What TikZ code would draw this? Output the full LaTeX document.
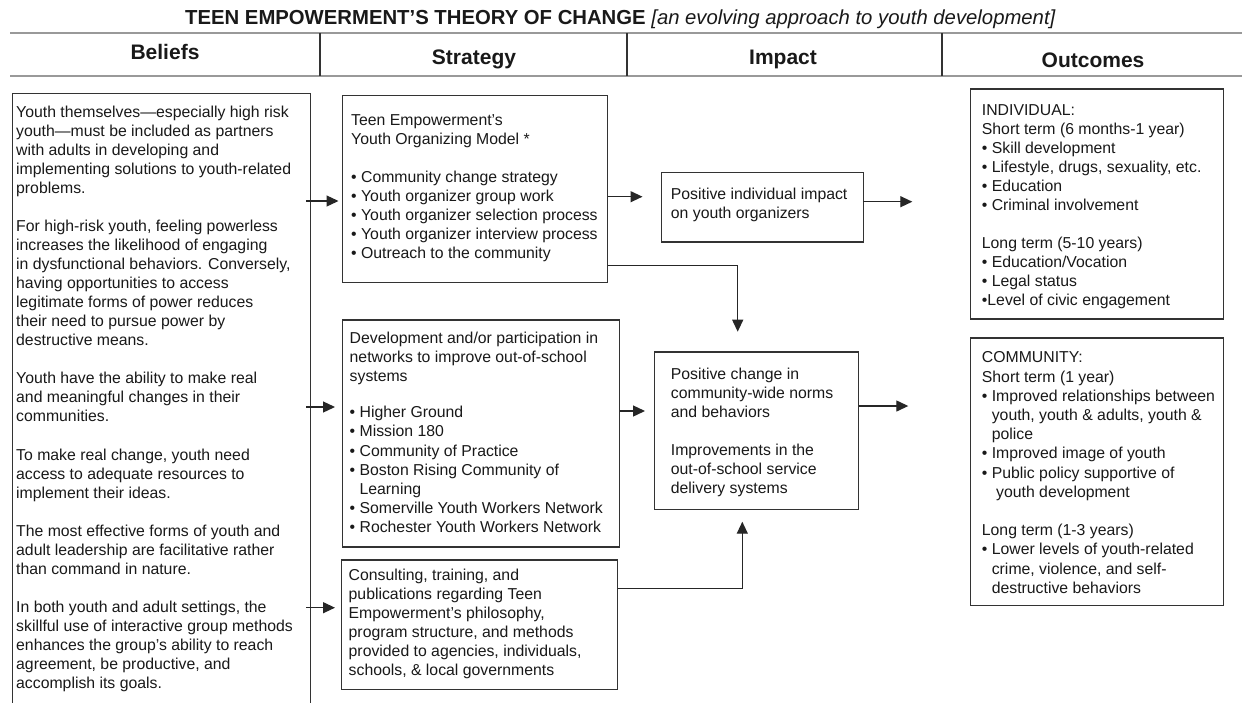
\documentclass[tikz,border=0pt]{standalone}
\usepackage{fontspec}
\setmainfont{Liberation Sans}
\usetikzlibrary{arrows.meta}
\newcommand\hng{\hphantom{•\ }}
\begin{document}
\begin{tikzpicture}[x=1pt,y=-1pt,
  box/.style={draw=black!80, line width=1.3pt, inner sep=0pt, anchor=north west},
  txt/.style={anchor=north west, inner sep=0pt, align=left, text=black!90, font=\fontsize{15.8}{19.05}\selectfont},
  txtw/.style={anchor=north west, inner sep=0pt, align=left, text=black!90, font=\fontsize{15.8}{19.2}\selectfont},
  arr/.style={draw=black!85, line width=1.3pt, -{Triangle[length=12pt,width=11pt]}},
  hdr/.style={anchor=base, inner sep=0pt, font=\fontsize{21}{25}\selectfont\bfseries, text=black!90},
  rule/.style={draw=gray!80, line width=2pt},
  sep/.style={draw=black!80, line width=1.2pt}]
\fill[white] (0,0) rectangle (1242,702);
\useasboundingbox (0,0) rectangle (1242,702);

% title
\node[anchor=base west, inner sep=0pt, text=black!90, font=\fontsize{20.3}{24}\selectfont] (title) at (185,24)
  {\bfseries TEEN EMPOWERMENT’S THEORY OF CHANGE \mdseries\itshape [an evolving approach to youth development]};

% header band
\draw[rule] (10,33.3) -- (1242,33.3);
\draw[rule] (10,75.5) -- (1242,75.5);
\draw[sep] (320,33.3) -- (320,75.5);
\draw[sep] (627,33.3) -- (627,75.5);
\draw[sep] (942,33.3) -- (942,75.5);
\node[hdr] (hbel) at (165,59.5) {Beliefs};
\node[hdr] (hstr) at (474,64) {Strategy};
\node[hdr] (himp) at (783,64) {Impact};
\node[hdr] (hout) at (1093,67) {Outcomes};

% boxes
\node[box, minimum width=298pt, minimum height=660pt] (bel) at (12,92.5) {};
\node[box, minimum width=265pt, minimum height=186.7pt] (s1) at (342,95) {};
\node[box, minimum width=277pt, minimum height=227pt] (s2) at (342,319.3) {};
\node[box, minimum width=275.5pt, minimum height=129.7pt] (s3) at (341,559.3) {};
\node[box, minimum width=202pt, minimum height=69.5pt] (i1) at (661,171.7) {};
\node[box, minimum width=203.7pt, minimum height=157.7pt] (i2) at (654,351.3) {};
\node[box, minimum width=253pt, minimum height=230pt] (o1) at (970,88.3) {};
\node[box, minimum width=253pt, minimum height=267.7pt] (o2) at (970,337.3) {};

% texts
\node[txt] (tbel) at (16,105.5) {Youth themselves—especially high risk\\
youth—must be included as partners\\
with adults in developing and\\
implementing solutions to youth-related\\
problems.\\[19.05pt]
For high-risk youth, feeling powerless\\
increases the likelihood of engaging\\
in dysfunctional behaviors. Conversely,\\
having opportunities to access\\
legitimate forms of power reduces\\
their need to pursue power by\\
destructive means.\\[19.05pt]
Youth have the ability to make real\\
and meaningful changes in their\\
communities.\\[19.05pt]
To make real change, youth need\\
access to adequate resources to\\
implement their ideas.\\[19.05pt]
The most effective forms of youth and\\
adult leadership are facilitative rather\\
than command in nature.\\[19.05pt]
In both youth and adult settings, the\\
skillful use of interactive group methods\\
enhances the group’s ability to reach\\
agreement, be productive, and\\
accomplish its goals.};

\node[txt] (ts1) at (351,114) {Teen Empowerment's\\
Youth Organizing Model *\\[19.05pt]
• Community change strategy\\
• Youth organizer group work\\
• Youth organizer selection process\\
• Youth organizer interview process\\
• Outreach to the community};

\node[txtw] (ts2) at (349.5,331.5) {Development and/or participation in\\
networks to improve out-of-school\\
systems\\[16.9pt]
• Higher Ground\\
• Mission 180\\
• Community of Practice\\
• Boston Rising Community of\\
\hng Learning\\
• Somerville Youth Workers Network\\
• Rochester Youth Workers Network};

\node[txt] (ts3) at (348.5,569) {Consulting, training, and\\
publications regarding Teen\\
Empowerment’s philosophy,\\
program structure, and methods\\
provided to agencies, individuals,\\
schools, \& local governments};

\node[txt] (ti1) at (670.7,187.7) {Positive individual impact\\
on youth organizers};

\node[txt] (ti2) at (670.7,368) {Positive change in\\
community-wide norms\\
and behaviors\\[19.05pt]
Improvements in the\\
out-of-school service\\
delivery systems};

\node[txt] (to1) at (981.7,104.3) {INDIVIDUAL:\\
Short term (6 months-1 year)\\
• Skill development\\
• Lifestyle, drugs, sexuality, etc.\\
• Education\\
• Criminal involvement\\[19.05pt]
Long term (5-10 years)\\
• Education/Vocation\\
• Legal status\\
•Level of civic engagement};

\node[txtw] (to2) at (981.7,351.7) {COMMUNITY:\\
Short term (1 year)\\
• Improved relationships between\\
\hng youth, youth \& adults, youth \&\\
\hng police\\
• Improved image of youth\\
• Public policy supportive of\\
\hng\ youth development\\[19.2pt]
Long term (1-3 years)\\
• Lower levels of youth-related\\
\hng crime, violence, and self-\\
\hng destructive behaviors};

% connectors
\coordinate (a1) at (338.5,201);
\coordinate (a2) at (335,407);
\coordinate (a3) at (335,607.7);
\draw[arr] (a1 -| bel.east) ++(-5,0) -- (a1);
\draw[arr] (a2 -| bel.east) ++(-5,0) -- (a2);
\draw[arr] (a3 -| bel.east) ++(-5,0) -- (a3);

\coordinate (b1) at (642.5,196.7);
\draw[arr] (b1 -| s1.east) -- (b1);
\coordinate (b2k) at (737.7,265.3);
\coordinate (b2) at (737.7,331.7);
\draw[arr] (b2k -| s1.east) -- (b2k) -- (b2);
\coordinate (b3) at (645,411);
\draw[arr] (b3 -| s2.east) -- (b3);
\coordinate (b4k) at (742.3,588.3);
\coordinate (b4) at (742.3,521.7);
\draw[arr] (b4k -| s3.east) -- (b4k) -- (b4);

\coordinate (c1) at (912.3,201.7);
\draw[arr] (c1 -| i1.east) ++(-1.5,0) -- (c1);
\coordinate (c2) at (908.3,406);
\draw[arr] (c2 -| i2.east) -- (c2);
\end{tikzpicture}
\end{document}
